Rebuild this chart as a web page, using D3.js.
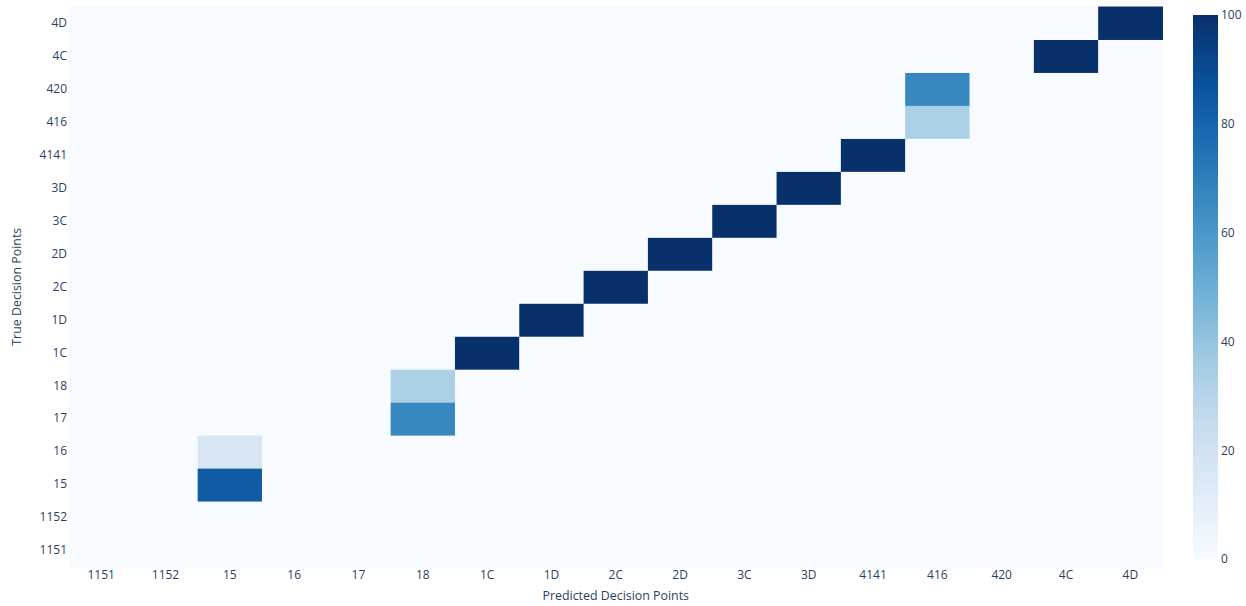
<!DOCTYPE html>
<html><head><meta charset="utf-8">
<script src="https://cdn.jsdelivr.net/npm/d3@7"></script>
<style>body{margin:0;background:#fff;} text{font-family:"Open Sans",sans-serif;fill:#2a3f5f;}</style>
</head><body><svg id="c" width="1246" height="606"></svg>
<script>
const categories = ["1151","1152","15","16","17","18","1C","1D","2C","2D","3C","3D","4141","416","420","4C","4D"];
// rows: true label (same order as categories), columns: predicted label
const z = [
 [0,0,0,0,0,0,0,0,0,0,0,0,0,0,0,0,0],
 [0,0,0,0,0,0,0,0,0,0,0,0,0,0,0,0,0],
 [0,0,83.3,0,0,0,0,0,0,0,0,0,0,0,0,0,0],
 [0,0,16.7,0,0,0,0,0,0,0,0,0,0,0,0,0,0],
 [0,0,0,0,0,66.7,0,0,0,0,0,0,0,0,0,0,0],
 [0,0,0,0,0,33.3,0,0,0,0,0,0,0,0,0,0,0],
 [0,0,0,0,0,0,100,0,0,0,0,0,0,0,0,0,0],
 [0,0,0,0,0,0,0,100,0,0,0,0,0,0,0,0,0],
 [0,0,0,0,0,0,0,0,100,0,0,0,0,0,0,0,0],
 [0,0,0,0,0,0,0,0,0,100,0,0,0,0,0,0,0],
 [0,0,0,0,0,0,0,0,0,0,100,0,0,0,0,0,0],
 [0,0,0,0,0,0,0,0,0,0,0,100,0,0,0,0,0],
 [0,0,0,0,0,0,0,0,0,0,0,0,100,0,0,0,0],
 [0,0,0,0,0,0,0,0,0,0,0,0,0,33.3,0,0,0],
 [0,0,0,0,0,0,0,0,0,0,0,0,0,66.7,0,0,0],
 [0,0,0,0,0,0,0,0,0,0,0,0,0,0,0,100,0],
 [0,0,0,0,0,0,0,0,0,0,0,0,0,0,0,0,100]
];
const colorbarTicks = [0,20,40,60,80,100];
const bluesStops = [0,0.125,0.25,0.375,0.5,0.625,0.75,0.875,1];
const bluesColors = ["rgb(247,251,255)","rgb(222,235,247)","rgb(198,219,239)","rgb(158,202,225)","rgb(107,174,214)","rgb(66,146,198)","rgb(33,113,181)","rgb(8,81,156)","rgb(8,48,107)"];

const svg = d3.select("#c");
const L = 69, R = 1162.5, T = 6.5, B = 567;
const x = d3.scaleBand().domain(categories).range([L, R]).padding(0);
const y = d3.scaleBand().domain(categories).range([B, T]).padding(0);
const color = d3.scaleLinear().domain(bluesStops.map(s => s*100)).range(bluesColors).interpolate(d3.interpolateRgb);

const cells = [];
z.forEach((row, i) => row.forEach((v, j) => cells.push({r: categories[i], c: categories[j], v})));
svg.append("g").selectAll("rect").data(cells).join("rect")
  .attr("x", d => x(d.c)).attr("y", d => y(d.r))
  .attr("width", x.bandwidth()+0.5).attr("height", y.bandwidth()+0.5)
  .attr("fill", d => color(d.v));

// axes
const xAxis = svg.append("g").attr("transform", `translate(0,${B})`)
  .call(d3.axisBottom(x).tickSize(0).tickPadding(3));
xAxis.select(".domain").remove();
xAxis.selectAll("text").style("font-size","12px").attr("fill","#2a3f5f");
const yAxis = svg.append("g").attr("transform", `translate(${L},0)`)
  .call(d3.axisLeft(y).tickSize(0).tickPadding(2));
yAxis.select(".domain").remove();
yAxis.selectAll("text").style("font-size","12px").attr("fill","#2a3f5f");

svg.append("text").attr("x", (L+R)/2).attr("y", 600).attr("text-anchor","middle")
  .style("font-size","12.4px").text("Predicted Decision Points");
svg.append("text").attr("transform", `translate(21,${(T+B)/2}) rotate(-90)`).attr("text-anchor","middle")
  .style("font-size","12.4px").text("True Decision Points");

// colorbar
const cbX = 1193, cbW = 25, cbT = 15, cbB = 559;
const defs = svg.append("defs");
const grad = defs.append("linearGradient").attr("id","cbg").attr("x1","0").attr("y1","1").attr("x2","0").attr("y2","0");
bluesStops.forEach((s,i) => grad.append("stop").attr("offset", s).attr("stop-color", bluesColors[i]));
svg.append("rect").attr("x", cbX).attr("y", cbT).attr("width", cbW).attr("height", cbB-cbT).attr("fill","url(#cbg)");
const cy = d3.scaleLinear().domain([0,100]).range([cbB, cbT]);
const cAxis = svg.append("g").attr("transform", `translate(${cbX+cbW},0)`)
  .call(d3.axisRight(cy).tickValues(colorbarTicks).tickSize(0).tickPadding(3));
cAxis.select(".domain").remove();
cAxis.selectAll("text").style("font-size","12px").attr("fill","#2a3f5f");
</script></body></html>
